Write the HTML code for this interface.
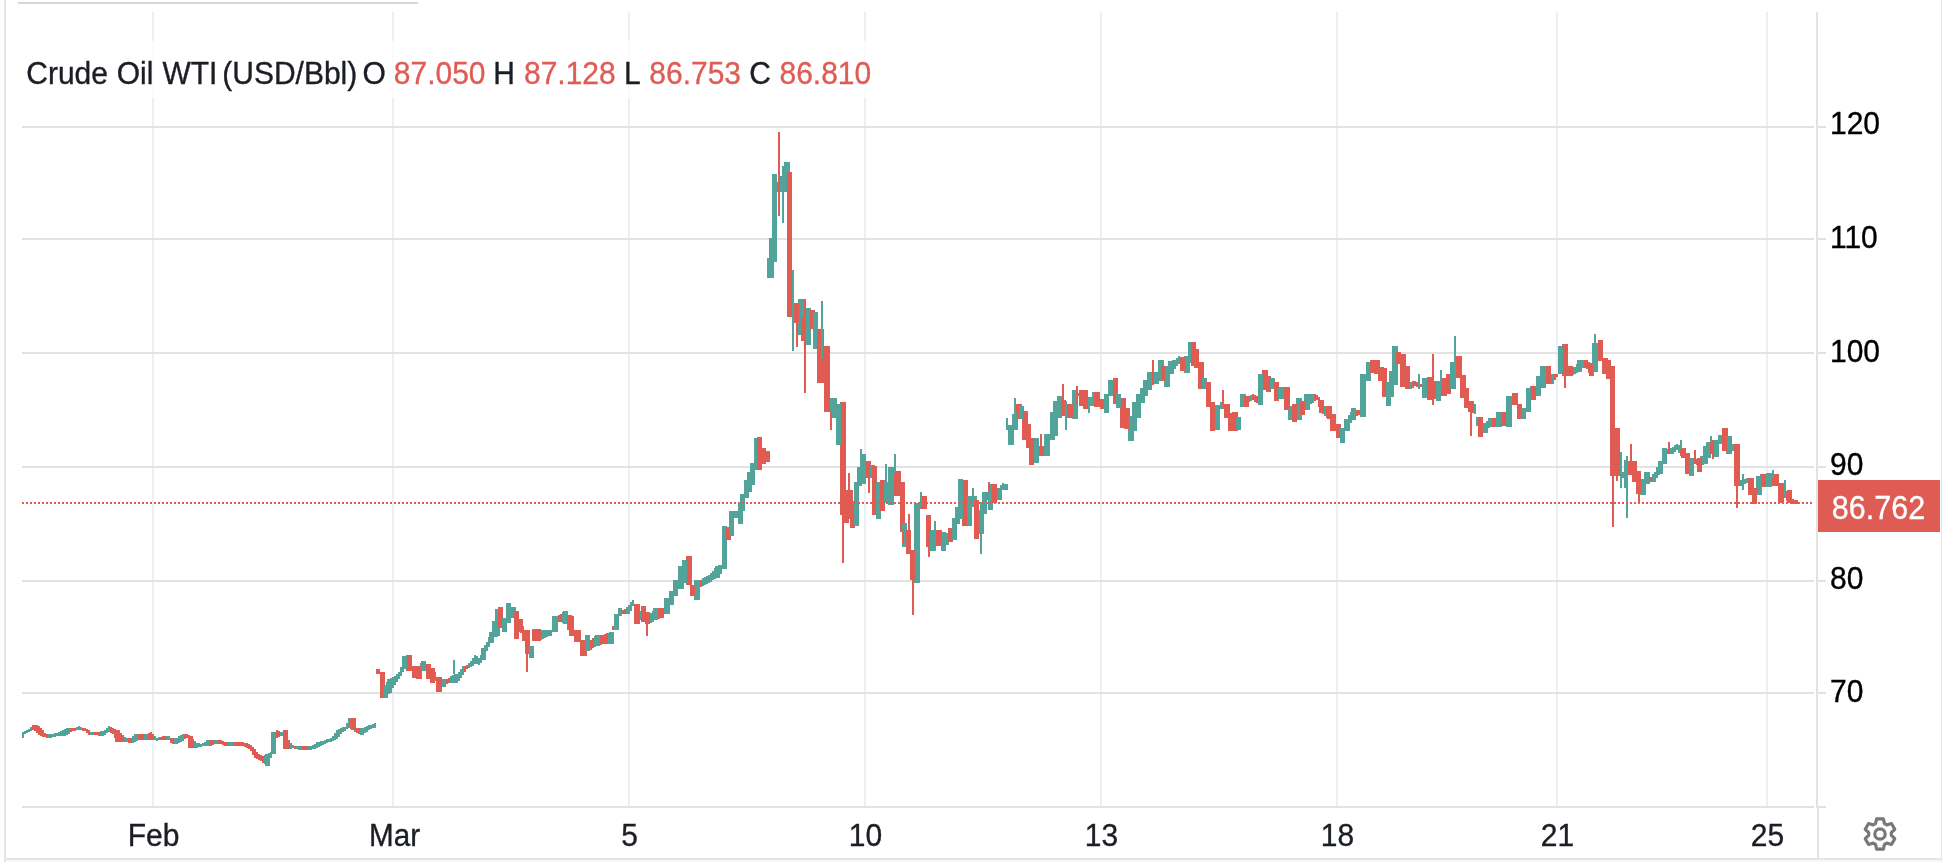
<!DOCTYPE html>
<html><head><meta charset="utf-8">
<style>
html,body{margin:0;padding:0;background:#fff;width:1942px;height:862px;overflow:hidden}
svg{display:block;position:absolute;left:0;top:0;will-change:transform}
text{font-family:"Liberation Sans",sans-serif;font-size:30px}
</style></head><body>
<svg width="1942" height="862" viewBox="0 0 1942 862" shape-rendering="crispEdges">
<rect x="0" y="0" width="1942" height="862" fill="#ffffff"/>
<!-- outer borders -->
<rect x="4" y="0" width="2" height="862" fill="#e3e5ea"/>
<rect x="18" y="2" width="400" height="2" fill="#d6d6d6"/>
<rect x="4" y="858" width="1938" height="2" fill="#e4e5ea"/><rect x="6" y="860" width="1936" height="2" fill="#f8f8fa"/>
<rect x="1941" y="0" width="1" height="862" fill="#e6e7ec"/>
<!-- vertical grid -->
<g fill="#ecf0f4">
<rect x="152" y="12" width="2" height="794"/>
<rect x="392" y="12" width="2" height="794"/>
<rect x="628" y="12" width="2" height="794"/>
<rect x="864" y="12" width="2" height="794"/>
<rect x="1100" y="12" width="2" height="794"/>
<rect x="1336" y="12" width="2" height="794"/>
<rect x="1556" y="12" width="2" height="794"/>
<rect x="1766" y="12" width="2" height="794"/>
</g>
<!-- horizontal grid -->
<g fill="#e3e3e3">
<rect x="22" y="126" width="1792" height="2"/>
<rect x="22" y="238" width="1792" height="2"/>
<rect x="22" y="352" width="1792" height="2"/>
<rect x="22" y="466" width="1792" height="2"/>
<rect x="22" y="580" width="1792" height="2"/>
<rect x="22" y="692" width="1792" height="2"/>
<rect x="22" y="806" width="1792" height="2"/>
</g>
<!-- price axis -->
<rect x="1816" y="12" width="2" height="796" fill="#e3e3e3"/><rect x="1817" y="808" width="2" height="50" fill="#e3e3e3"/>
<g fill="#e3e3e3">
<rect x="1818" y="126" width="8" height="2"/>
<rect x="1818" y="238" width="8" height="2"/>
<rect x="1818" y="352" width="8" height="2"/>
<rect x="1818" y="466" width="8" height="2"/>
<rect x="1818" y="580" width="8" height="2"/>
<rect x="1818" y="692" width="8" height="2"/>
<rect x="1818" y="806" width="8" height="2"/>
</g>
<g fill="#000000" stroke="#000000" stroke-width="0.35">
<text transform="translate(1830.0,134.0) scale(1,1.07)"  >120</text>
<text transform="translate(1830.0,248.0) scale(1,1.07)"  >110</text>
<text transform="translate(1830.0,362.0) scale(1,1.07)"  >100</text>
<text transform="translate(1830.0,474.5) scale(1,1.07)"  >90</text>
<text transform="translate(1830.0,588.5) scale(1,1.07)"  >80</text>
<text transform="translate(1830.0,702.0) scale(1,1.07)"  >70</text>
</g>
<!-- time axis labels -->
<g fill="#1b1e24" stroke="#1b1e24" stroke-width="0.35" text-anchor="middle">
<text transform="translate(153.5,846.0) scale(1,1.07)"  >Feb</text>
<text transform="translate(394.5,846.0) scale(1,1.07)"   textLength="51" lengthAdjust="spacingAndGlyphs">Mar</text>
<text transform="translate(629.5,846.0) scale(1,1.07)"  >5</text>
<text transform="translate(865.5,846.0) scale(1,1.07)"  >10</text>
<text transform="translate(1101.5,846.0) scale(1,1.07)"  >13</text>
<text transform="translate(1337.5,846.0) scale(1,1.07)"  >18</text>
<text transform="translate(1557.5,846.0) scale(1,1.07)"  >21</text>
<text transform="translate(1767.5,846.0) scale(1,1.07)"  >25</text>
</g>
<!-- candles -->
<g shape-rendering="crispEdges"><rect x="22" y="732" width="2" height="6" fill="#52a49a"/><rect x="24" y="731" width="2" height="3" fill="#52a49a"/><rect x="26" y="730" width="2" height="3" fill="#52a49a"/><rect x="28" y="729" width="2" height="3" fill="#52a49a"/><rect x="30" y="727" width="2" height="4" fill="#52a49a"/><rect x="32" y="725" width="2" height="5" fill="#e05c52"/><rect x="34" y="725" width="2" height="6" fill="#e05c52"/><rect x="36" y="725" width="2" height="8" fill="#e05c52"/><rect x="38" y="726" width="2" height="9" fill="#e05c52"/><rect x="40" y="728" width="2" height="8" fill="#e05c52"/><rect x="42" y="730" width="2" height="7" fill="#e05c52"/><rect x="44" y="733" width="2" height="4" fill="#e05c52"/><rect x="46" y="734" width="2" height="4" fill="#e05c52"/><rect x="48" y="734" width="4" height="4" fill="#52a49a"/><rect x="52" y="734" width="2" height="3" fill="#52a49a"/><rect x="54" y="733" width="2" height="4" fill="#52a49a"/><rect x="56" y="733" width="2" height="3" fill="#52a49a"/><rect x="58" y="732" width="2" height="4" fill="#52a49a"/><rect x="60" y="731" width="2" height="5" fill="#52a49a"/><rect x="62" y="730" width="2" height="6" fill="#52a49a"/><rect x="64" y="729" width="2" height="7" fill="#52a49a"/><rect x="66" y="728" width="2" height="7" fill="#52a49a"/><rect x="68" y="728" width="2" height="6" fill="#52a49a"/><rect x="70" y="728" width="2" height="4" fill="#e05c52"/><rect x="72" y="728" width="4" height="3" fill="#e05c52"/><rect x="76" y="727" width="2" height="3" fill="#52a49a"/><rect x="78" y="726" width="2" height="4" fill="#52a49a"/><rect x="80" y="727" width="2" height="3" fill="#52a49a"/><rect x="82" y="728" width="4" height="3" fill="#e05c52"/><rect x="86" y="729" width="2" height="4" fill="#e05c52"/><rect x="88" y="730" width="2" height="5" fill="#e05c52"/><rect x="90" y="732" width="4" height="3" fill="#52a49a"/><rect x="94" y="732" width="4" height="3" fill="#e05c52"/><rect x="98" y="732" width="2" height="4" fill="#e05c52"/><rect x="100" y="731" width="4" height="5" fill="#52a49a"/><rect x="104" y="730" width="2" height="5" fill="#52a49a"/><rect x="106" y="728" width="2" height="5" fill="#52a49a"/><rect x="108" y="726" width="2" height="6" fill="#52a49a"/><rect x="110" y="727" width="2" height="6" fill="#e05c52"/><rect x="112" y="728" width="2" height="6" fill="#e05c52"/><rect x="114" y="729" width="2" height="9" fill="#e05c52"/><rect x="116" y="730" width="2" height="12" fill="#e05c52"/><rect x="118" y="732" width="2" height="10" fill="#e05c52"/><rect x="120" y="733" width="2" height="9" fill="#e05c52"/><rect x="122" y="735" width="2" height="7" fill="#e05c52"/><rect x="124" y="737" width="2" height="5" fill="#52a49a"/><rect x="126" y="738" width="2" height="4" fill="#52a49a"/><rect x="128" y="738" width="4" height="5" fill="#e05c52"/><rect x="132" y="736" width="2" height="7" fill="#52a49a"/><rect x="134" y="734" width="2" height="8" fill="#52a49a"/><rect x="136" y="734" width="2" height="7" fill="#52a49a"/><rect x="138" y="734" width="6" height="6" fill="#e05c52"/><rect x="144" y="734" width="4" height="6" fill="#52a49a"/><rect x="148" y="733" width="2" height="7" fill="#e05c52"/><rect x="150" y="732" width="2" height="8" fill="#e05c52"/><rect x="152" y="734" width="2" height="6" fill="#e05c52"/><rect x="154" y="736" width="2" height="4" fill="#52a49a"/><rect x="156" y="738" width="2" height="3" fill="#52a49a"/><rect x="158" y="737" width="2" height="3" fill="#52a49a"/><rect x="160" y="737" width="2" height="3" fill="#e05c52"/><rect x="162" y="736" width="4" height="4" fill="#e05c52"/><rect x="166" y="736" width="4" height="4" fill="#52a49a"/><rect x="170" y="738" width="2" height="5" fill="#e05c52"/><rect x="172" y="738" width="2" height="6" fill="#e05c52"/><rect x="174" y="738" width="4" height="6" fill="#52a49a"/><rect x="178" y="736" width="2" height="7" fill="#52a49a"/><rect x="180" y="735" width="2" height="7" fill="#52a49a"/><rect x="182" y="734" width="2" height="7" fill="#52a49a"/><rect x="184" y="734" width="2" height="5" fill="#e05c52"/><rect x="186" y="734" width="2" height="4" fill="#e05c52"/><rect x="188" y="735" width="2" height="9" fill="#e05c52"/><rect x="190" y="737" width="2" height="11" fill="#e05c52"/><rect x="192" y="739" width="2" height="9" fill="#e05c52"/><rect x="194" y="741" width="2" height="7" fill="#52a49a"/><rect x="196" y="743" width="2" height="5" fill="#52a49a"/><rect x="198" y="743" width="2" height="4" fill="#52a49a"/><rect x="200" y="744" width="2" height="3" fill="#52a49a"/><rect x="202" y="743" width="2" height="3" fill="#52a49a"/><rect x="204" y="742" width="2" height="4" fill="#52a49a"/><rect x="206" y="740" width="4" height="6" fill="#52a49a"/><rect x="210" y="740" width="2" height="6" fill="#e05c52"/><rect x="212" y="740" width="2" height="5" fill="#e05c52"/><rect x="214" y="740" width="4" height="4" fill="#52a49a"/><rect x="218" y="740" width="4" height="4" fill="#e05c52"/><rect x="222" y="741" width="2" height="4" fill="#e05c52"/><rect x="224" y="742" width="4" height="4" fill="#e05c52"/><rect x="228" y="742" width="6" height="4" fill="#52a49a"/><rect x="234" y="742" width="10" height="4" fill="#e05c52"/><rect x="244" y="743" width="2" height="4" fill="#e05c52"/><rect x="246" y="743" width="2" height="5" fill="#e05c52"/><rect x="248" y="744" width="2" height="5" fill="#e05c52"/><rect x="250" y="745" width="2" height="6" fill="#e05c52"/><rect x="252" y="747" width="2" height="8" fill="#e05c52"/><rect x="254" y="749" width="2" height="9" fill="#e05c52"/><rect x="256" y="752" width="2" height="7" fill="#e05c52"/><rect x="258" y="754" width="2" height="6" fill="#e05c52"/><rect x="260" y="755" width="2" height="6" fill="#e05c52"/><rect x="262" y="756" width="2" height="7" fill="#e05c52"/><rect x="264" y="755" width="2" height="9" fill="#52a49a"/><rect x="266" y="754" width="2" height="11" fill="#52a49a"/><rect x="268" y="753" width="2" height="8" fill="#52a49a"/><rect x="270" y="752" width="2" height="6" fill="#52a49a"/><rect x="272" y="732" width="4" height="22" fill="#52a49a"/><rect x="276" y="730" width="2" height="8" fill="#e05c52"/><rect x="278" y="731" width="2" height="6" fill="#e05c52"/><rect x="280" y="732" width="4" height="4" fill="#52a49a"/><rect x="284" y="730" width="2" height="19" fill="#e05c52"/><rect x="286" y="740" width="4" height="9" fill="#e05c52"/><rect x="290" y="743" width="2" height="6" fill="#52a49a"/><rect x="292" y="745" width="2" height="3" fill="#52a49a"/><rect x="294" y="746" width="2" height="3" fill="#e05c52"/><rect x="296" y="746" width="2" height="3" fill="#52a49a"/><rect x="298" y="746" width="4" height="4" fill="#52a49a"/><rect x="302" y="746" width="6" height="4" fill="#e05c52"/><rect x="308" y="746" width="4" height="4" fill="#52a49a"/><rect x="312" y="745" width="2" height="4" fill="#52a49a"/><rect x="314" y="744" width="2" height="5" fill="#52a49a"/><rect x="316" y="742" width="2" height="6" fill="#52a49a"/><rect x="318" y="742" width="2" height="5" fill="#52a49a"/><rect x="320" y="741" width="2" height="5" fill="#52a49a"/><rect x="322" y="741" width="2" height="4" fill="#52a49a"/><rect x="324" y="740" width="2" height="4" fill="#52a49a"/><rect x="326" y="739" width="2" height="4" fill="#52a49a"/><rect x="328" y="739" width="2" height="3" fill="#52a49a"/><rect x="330" y="738" width="2" height="4" fill="#52a49a"/><rect x="332" y="736" width="2" height="5" fill="#52a49a"/><rect x="334" y="733" width="2" height="7" fill="#52a49a"/><rect x="336" y="730" width="2" height="9" fill="#52a49a"/><rect x="338" y="729" width="2" height="8" fill="#52a49a"/><rect x="340" y="728" width="2" height="6" fill="#52a49a"/><rect x="342" y="727" width="2" height="5" fill="#52a49a"/><rect x="344" y="727" width="2" height="4" fill="#52a49a"/><rect x="346" y="723" width="2" height="6" fill="#52a49a"/><rect x="348" y="718" width="2" height="10" fill="#52a49a"/><rect x="350" y="718" width="2" height="11" fill="#e05c52"/><rect x="352" y="719" width="2" height="11" fill="#e05c52"/><rect x="354" y="727" width="2" height="5" fill="#52a49a"/><rect x="356" y="728" width="2" height="5" fill="#e05c52"/><rect x="358" y="728" width="2" height="6" fill="#e05c52"/><rect x="360" y="728" width="4" height="7" fill="#52a49a"/><rect x="364" y="727" width="2" height="6" fill="#52a49a"/><rect x="366" y="726" width="2" height="6" fill="#52a49a"/><rect x="368" y="725" width="2" height="5" fill="#52a49a"/><rect x="370" y="725" width="2" height="4" fill="#52a49a"/><rect x="372" y="724" width="2" height="4" fill="#52a49a"/><rect x="374" y="723" width="2" height="5" fill="#52a49a"/><rect x="376" y="669" width="4" height="5" fill="#e05c52"/><rect x="380" y="672" width="4" height="26" fill="#e05c52"/><rect x="384" y="685" width="2" height="13" fill="#52a49a"/><rect x="386" y="682" width="2" height="14" fill="#52a49a"/><rect x="388" y="680" width="2" height="14" fill="#52a49a"/><rect x="390" y="678" width="2" height="13" fill="#52a49a"/><rect x="392" y="677" width="2" height="11" fill="#52a49a"/><rect x="394" y="676" width="2" height="9" fill="#52a49a"/><rect x="396" y="674" width="2" height="8" fill="#52a49a"/><rect x="398" y="672" width="2" height="7" fill="#52a49a"/><rect x="400" y="667" width="2" height="9" fill="#52a49a"/><rect x="402" y="660" width="2" height="12" fill="#52a49a"/><rect x="404" y="656" width="2" height="13" fill="#52a49a"/><rect x="406" y="655" width="6" height="16" fill="#e05c52"/><rect x="412" y="666" width="4" height="12" fill="#e05c52"/><rect x="416" y="666" width="4" height="13" fill="#e05c52"/><rect x="420" y="663" width="2" height="12" fill="#52a49a"/><rect x="422" y="661" width="4" height="10" fill="#52a49a"/><rect x="426" y="664" width="4" height="15" fill="#e05c52"/><rect x="430" y="668" width="2" height="15" fill="#e05c52"/><rect x="432" y="672" width="4" height="9" fill="#52a49a"/><rect x="436" y="677" width="6" height="15" fill="#e05c52"/><rect x="442" y="679" width="4" height="8" fill="#52a49a"/><rect x="446" y="679" width="2" height="5" fill="#e05c52"/><rect x="448" y="678" width="2" height="5" fill="#e05c52"/><rect x="450" y="676" width="2" height="7" fill="#52a49a"/><rect x="452" y="675" width="2" height="8" fill="#52a49a"/><rect x="454" y="674" width="4" height="9" fill="#52a49a"/><rect x="458" y="672" width="2" height="9" fill="#52a49a"/><rect x="460" y="669" width="2" height="9" fill="#52a49a"/><rect x="462" y="666" width="2" height="9" fill="#52a49a"/><rect x="464" y="666" width="2" height="6" fill="#e05c52"/><rect x="466" y="665" width="2" height="4" fill="#e05c52"/><rect x="468" y="663" width="2" height="5" fill="#52a49a"/><rect x="470" y="661" width="2" height="6" fill="#52a49a"/><rect x="472" y="658" width="2" height="8" fill="#52a49a"/><rect x="474" y="655" width="2" height="9" fill="#52a49a"/><rect x="476" y="656" width="2" height="8" fill="#52a49a"/><rect x="478" y="658" width="2" height="7" fill="#52a49a"/><rect x="480" y="655" width="2" height="8" fill="#52a49a"/><rect x="482" y="648" width="2" height="11" fill="#52a49a"/><rect x="484" y="645" width="2" height="10" fill="#52a49a"/><rect x="486" y="642" width="2" height="9" fill="#52a49a"/><rect x="488" y="637" width="2" height="10" fill="#52a49a"/><rect x="490" y="632" width="2" height="11" fill="#52a49a"/><rect x="492" y="621" width="4" height="16" fill="#52a49a"/><rect x="496" y="609" width="2" height="27" fill="#52a49a"/><rect x="498" y="607" width="4" height="21" fill="#e05c52"/><rect x="502" y="618" width="4" height="14" fill="#52a49a"/><rect x="506" y="603" width="4" height="20" fill="#52a49a"/><rect x="510" y="607" width="4" height="11" fill="#52a49a"/><rect x="514" y="611" width="4" height="28" fill="#e05c52"/><rect x="518" y="619" width="2" height="13" fill="#e05c52"/><rect x="520" y="621" width="2" height="12" fill="#e05c52"/><rect x="522" y="626" width="2" height="12" fill="#e05c52"/><rect x="524" y="630" width="2" height="11" fill="#e05c52"/><rect x="526" y="630" width="4" height="24" fill="#e05c52"/><rect x="530" y="646" width="2" height="12" fill="#52a49a"/><rect x="532" y="629" width="8" height="12" fill="#e05c52"/><rect x="540" y="630" width="2" height="10" fill="#52a49a"/><rect x="542" y="630" width="2" height="9" fill="#52a49a"/><rect x="544" y="630" width="2" height="8" fill="#52a49a"/><rect x="546" y="630" width="2" height="7" fill="#52a49a"/><rect x="548" y="630" width="4" height="6" fill="#52a49a"/><rect x="552" y="616" width="6" height="16" fill="#52a49a"/><rect x="558" y="615" width="2" height="7" fill="#e05c52"/><rect x="560" y="614" width="2" height="8" fill="#e05c52"/><rect x="562" y="612" width="2" height="11" fill="#52a49a"/><rect x="564" y="611" width="2" height="12" fill="#52a49a"/><rect x="566" y="611" width="2" height="13" fill="#52a49a"/><rect x="568" y="615" width="2" height="15" fill="#e05c52"/><rect x="570" y="616" width="4" height="20" fill="#e05c52"/><rect x="574" y="630" width="6" height="12" fill="#e05c52"/><rect x="580" y="640" width="6" height="16" fill="#e05c52"/><rect x="586" y="635" width="2" height="16" fill="#52a49a"/><rect x="588" y="640" width="4" height="10" fill="#e05c52"/><rect x="592" y="638" width="2" height="10" fill="#e05c52"/><rect x="594" y="636" width="2" height="11" fill="#52a49a"/><rect x="596" y="635" width="2" height="11" fill="#52a49a"/><rect x="598" y="635" width="2" height="10" fill="#52a49a"/><rect x="600" y="635" width="2" height="10" fill="#e05c52"/><rect x="602" y="635" width="2" height="9" fill="#e05c52"/><rect x="604" y="634" width="2" height="10" fill="#e05c52"/><rect x="606" y="633" width="2" height="11" fill="#e05c52"/><rect x="608" y="633" width="2" height="11" fill="#52a49a"/><rect x="610" y="632" width="2" height="11" fill="#52a49a"/><rect x="612" y="626" width="2" height="4" fill="#e05c52"/><rect x="614" y="614" width="4" height="16" fill="#52a49a"/><rect x="618" y="608" width="4" height="8" fill="#52a49a"/><rect x="622" y="610" width="2" height="4" fill="#e05c52"/><rect x="624" y="609" width="2" height="5" fill="#e05c52"/><rect x="626" y="607" width="2" height="7" fill="#52a49a"/><rect x="628" y="605" width="2" height="9" fill="#52a49a"/><rect x="630" y="602" width="2" height="9" fill="#52a49a"/><rect x="632" y="600" width="2" height="6" fill="#52a49a"/><rect x="634" y="604" width="4" height="20" fill="#e05c52"/><rect x="638" y="611" width="4" height="9" fill="#52a49a"/><rect x="642" y="606" width="4" height="16" fill="#e05c52"/><rect x="646" y="612" width="2" height="12" fill="#e05c52"/><rect x="648" y="613" width="2" height="11" fill="#52a49a"/><rect x="650" y="613" width="2" height="10" fill="#52a49a"/><rect x="652" y="611" width="2" height="11" fill="#52a49a"/><rect x="654" y="609" width="2" height="11" fill="#52a49a"/><rect x="656" y="608" width="2" height="12" fill="#52a49a"/><rect x="658" y="608" width="2" height="11" fill="#e05c52"/><rect x="660" y="608" width="4" height="10" fill="#e05c52"/><rect x="664" y="598" width="6" height="16" fill="#52a49a"/><rect x="670" y="591" width="4" height="14" fill="#52a49a"/><rect x="674" y="580" width="4" height="16" fill="#52a49a"/><rect x="678" y="566" width="4" height="23" fill="#52a49a"/><rect x="682" y="560" width="4" height="23" fill="#52a49a"/><rect x="686" y="556" width="4" height="29" fill="#e05c52"/><rect x="690" y="585" width="4" height="11" fill="#e05c52"/><rect x="694" y="580" width="4" height="20" fill="#52a49a"/><rect x="698" y="581" width="2" height="6" fill="#e05c52"/><rect x="700" y="580" width="2" height="7" fill="#e05c52"/><rect x="702" y="578" width="2" height="8" fill="#52a49a"/><rect x="704" y="577" width="2" height="8" fill="#52a49a"/><rect x="706" y="576" width="2" height="8" fill="#52a49a"/><rect x="708" y="575" width="2" height="8" fill="#52a49a"/><rect x="710" y="573" width="2" height="9" fill="#52a49a"/><rect x="712" y="571" width="2" height="9" fill="#52a49a"/><rect x="714" y="568" width="2" height="11" fill="#52a49a"/><rect x="716" y="566" width="2" height="11" fill="#52a49a"/><rect x="718" y="565" width="2" height="11" fill="#52a49a"/><rect x="720" y="565" width="2" height="9" fill="#52a49a"/><rect x="722" y="526" width="4" height="43" fill="#52a49a"/><rect x="726" y="527" width="4" height="13" fill="#e05c52"/><rect x="730" y="511" width="2" height="25" fill="#52a49a"/><rect x="732" y="511" width="6" height="7" fill="#52a49a"/><rect x="738" y="504" width="4" height="20" fill="#52a49a"/><rect x="742" y="494" width="2" height="17" fill="#52a49a"/><rect x="744" y="480" width="4" height="18" fill="#52a49a"/><rect x="748" y="472" width="2" height="20" fill="#52a49a"/><rect x="750" y="463" width="4" height="22" fill="#52a49a"/><rect x="754" y="438" width="4" height="32" fill="#52a49a"/><rect x="758" y="437" width="2" height="33" fill="#e05c52"/><rect x="760" y="448" width="6" height="16" fill="#e05c52"/><rect x="766" y="451" width="2" height="11" fill="#e05c52"/><rect x="768" y="258" width="2" height="20" fill="#52a49a"/><rect x="770" y="238" width="2" height="40" fill="#52a49a"/><rect x="772" y="174" width="4" height="88" fill="#52a49a"/><rect x="776" y="182" width="4" height="10" fill="#e05c52"/><rect x="780" y="176" width="4" height="16" fill="#52a49a"/><rect x="784" y="162" width="4" height="30" fill="#52a49a"/><rect x="788" y="172" width="4" height="145" fill="#e05c52"/><rect x="792" y="303" width="6" height="20" fill="#e05c52"/><rect x="798" y="299" width="4" height="36" fill="#52a49a"/><rect x="802" y="317" width="4" height="24" fill="#e05c52"/><rect x="806" y="308" width="4" height="37" fill="#52a49a"/><rect x="810" y="310" width="4" height="19" fill="#e05c52"/><rect x="814" y="312" width="4" height="37" fill="#52a49a"/><rect x="818" y="329" width="6" height="54" fill="#e05c52"/><rect x="824" y="346" width="6" height="66" fill="#e05c52"/><rect x="830" y="398" width="6" height="20" fill="#52a49a"/><rect x="836" y="404" width="4" height="41" fill="#52a49a"/><rect x="840" y="402" width="4" height="113" fill="#e05c52"/><rect x="844" y="490" width="4" height="33" fill="#e05c52"/><rect x="848" y="490" width="2" height="29" fill="#e05c52"/><rect x="850" y="501" width="4" height="27" fill="#e05c52"/><rect x="854" y="482" width="4" height="44" fill="#52a49a"/><rect x="858" y="467" width="4" height="19" fill="#52a49a"/><rect x="862" y="454" width="4" height="30" fill="#52a49a"/><rect x="866" y="461" width="4" height="17" fill="#e05c52"/><rect x="870" y="465" width="2" height="13" fill="#52a49a"/><rect x="872" y="466" width="4" height="49" fill="#e05c52"/><rect x="876" y="482" width="4" height="37" fill="#52a49a"/><rect x="880" y="480" width="4" height="31" fill="#e05c52"/><rect x="884" y="482" width="4" height="21" fill="#52a49a"/><rect x="888" y="467" width="6" height="38" fill="#52a49a"/><rect x="894" y="471" width="6" height="25" fill="#e05c52"/><rect x="900" y="482" width="4" height="50" fill="#e05c52"/><rect x="904" y="523" width="2" height="24" fill="#52a49a"/><rect x="906" y="530" width="4" height="24" fill="#e05c52"/><rect x="910" y="550" width="4" height="30" fill="#e05c52"/><rect x="914" y="503" width="6" height="80" fill="#52a49a"/><rect x="920" y="496" width="6" height="13" fill="#e05c52"/><rect x="926" y="515" width="4" height="32" fill="#e05c52"/><rect x="930" y="530" width="6" height="21" fill="#52a49a"/><rect x="936" y="530" width="4" height="16" fill="#e05c52"/><rect x="940" y="532" width="2" height="12" fill="#e05c52"/><rect x="942" y="532" width="2" height="19" fill="#52a49a"/><rect x="944" y="533" width="2" height="12" fill="#52a49a"/><rect x="946" y="533" width="2" height="11" fill="#52a49a"/><rect x="948" y="531" width="2" height="11" fill="#e05c52"/><rect x="950" y="528" width="2" height="14" fill="#e05c52"/><rect x="952" y="518" width="4" height="22" fill="#52a49a"/><rect x="956" y="507" width="2" height="17" fill="#52a49a"/><rect x="958" y="479" width="4" height="40" fill="#52a49a"/><rect x="962" y="480" width="4" height="46" fill="#e05c52"/><rect x="966" y="496" width="6" height="30" fill="#52a49a"/><rect x="972" y="496" width="4" height="11" fill="#52a49a"/><rect x="976" y="500" width="2" height="39" fill="#e05c52"/><rect x="978" y="510" width="4" height="24" fill="#52a49a"/><rect x="982" y="492" width="4" height="22" fill="#52a49a"/><rect x="986" y="492" width="2" height="8" fill="#e05c52"/><rect x="988" y="484" width="4" height="26" fill="#52a49a"/><rect x="992" y="484" width="4" height="19" fill="#e05c52"/><rect x="996" y="488" width="2" height="12" fill="#52a49a"/><rect x="998" y="488" width="2" height="11" fill="#52a49a"/><rect x="1000" y="485" width="2" height="10" fill="#52a49a"/><rect x="1002" y="483" width="2" height="7" fill="#52a49a"/><rect x="1004" y="484" width="4" height="6" fill="#52a49a"/><rect x="1008" y="425" width="4" height="20" fill="#52a49a"/><rect x="1012" y="414" width="4" height="16" fill="#52a49a"/><rect x="1016" y="404" width="4" height="15" fill="#e05c52"/><rect x="1020" y="406" width="2" height="13" fill="#52a49a"/><rect x="1022" y="411" width="4" height="29" fill="#e05c52"/><rect x="1026" y="424" width="4" height="24" fill="#e05c52"/><rect x="1030" y="438" width="4" height="27" fill="#e05c52"/><rect x="1034" y="438" width="4" height="25" fill="#52a49a"/><rect x="1038" y="446" width="6" height="10" fill="#e05c52"/><rect x="1044" y="434" width="6" height="22" fill="#52a49a"/><rect x="1050" y="412" width="4" height="28" fill="#52a49a"/><rect x="1054" y="401" width="4" height="35" fill="#52a49a"/><rect x="1058" y="396" width="4" height="22" fill="#52a49a"/><rect x="1062" y="400" width="4" height="16" fill="#e05c52"/><rect x="1066" y="404" width="6" height="14" fill="#e05c52"/><rect x="1072" y="390" width="4" height="29" fill="#52a49a"/><rect x="1076" y="393" width="4" height="3" fill="#e05c52"/><rect x="1080" y="390" width="4" height="16" fill="#e05c52"/><rect x="1084" y="390" width="4" height="19" fill="#e05c52"/><rect x="1088" y="397" width="6" height="9" fill="#52a49a"/><rect x="1094" y="392" width="6" height="15" fill="#e05c52"/><rect x="1100" y="399" width="4" height="10" fill="#e05c52"/><rect x="1104" y="394" width="4" height="19" fill="#52a49a"/><rect x="1108" y="380" width="6" height="16" fill="#52a49a"/><rect x="1114" y="378" width="2" height="26" fill="#e05c52"/><rect x="1116" y="394" width="4" height="14" fill="#52a49a"/><rect x="1120" y="398" width="4" height="30" fill="#e05c52"/><rect x="1124" y="408" width="4" height="21" fill="#e05c52"/><rect x="1128" y="416" width="4" height="25" fill="#52a49a"/><rect x="1132" y="402" width="4" height="29" fill="#52a49a"/><rect x="1136" y="394" width="4" height="24" fill="#52a49a"/><rect x="1140" y="388" width="4" height="15" fill="#52a49a"/><rect x="1144" y="380" width="4" height="16" fill="#52a49a"/><rect x="1148" y="372" width="2" height="18" fill="#52a49a"/><rect x="1150" y="378" width="2" height="8" fill="#e05c52"/><rect x="1152" y="376" width="2" height="9" fill="#e05c52"/><rect x="1154" y="374" width="2" height="10" fill="#52a49a"/><rect x="1156" y="372" width="2" height="12" fill="#52a49a"/><rect x="1158" y="360" width="4" height="21" fill="#52a49a"/><rect x="1162" y="366" width="2" height="15" fill="#e05c52"/><rect x="1164" y="366" width="4" height="21" fill="#52a49a"/><rect x="1168" y="361" width="4" height="13" fill="#52a49a"/><rect x="1172" y="360" width="2" height="11" fill="#52a49a"/><rect x="1174" y="360" width="2" height="9" fill="#52a49a"/><rect x="1176" y="358" width="2" height="8" fill="#52a49a"/><rect x="1178" y="356" width="2" height="8" fill="#52a49a"/><rect x="1180" y="357" width="4" height="14" fill="#e05c52"/><rect x="1184" y="356" width="4" height="17" fill="#52a49a"/><rect x="1188" y="342" width="4" height="21" fill="#52a49a"/><rect x="1192" y="342" width="2" height="24" fill="#e05c52"/><rect x="1194" y="349" width="4" height="19" fill="#e05c52"/><rect x="1198" y="362" width="4" height="27" fill="#e05c52"/><rect x="1202" y="378" width="4" height="11" fill="#52a49a"/><rect x="1206" y="382" width="4" height="25" fill="#e05c52"/><rect x="1210" y="402" width="4" height="29" fill="#e05c52"/><rect x="1214" y="405" width="6" height="25" fill="#52a49a"/><rect x="1220" y="402" width="4" height="7" fill="#52a49a"/><rect x="1224" y="404" width="4" height="14" fill="#e05c52"/><rect x="1228" y="413" width="4" height="18" fill="#e05c52"/><rect x="1232" y="412" width="4" height="19" fill="#e05c52"/><rect x="1236" y="417" width="4" height="13" fill="#52a49a"/><rect x="1240" y="394" width="4" height="13" fill="#52a49a"/><rect x="1244" y="395" width="2" height="12" fill="#e05c52"/><rect x="1246" y="396" width="2" height="10" fill="#e05c52"/><rect x="1248" y="396" width="2" height="6" fill="#52a49a"/><rect x="1250" y="395" width="2" height="6" fill="#52a49a"/><rect x="1252" y="394" width="2" height="6" fill="#e05c52"/><rect x="1254" y="395" width="2" height="7" fill="#e05c52"/><rect x="1256" y="396" width="2" height="7" fill="#e05c52"/><rect x="1258" y="374" width="4" height="31" fill="#52a49a"/><rect x="1262" y="370" width="4" height="20" fill="#e05c52"/><rect x="1266" y="376" width="4" height="16" fill="#e05c52"/><rect x="1270" y="378" width="4" height="11" fill="#52a49a"/><rect x="1274" y="382" width="4" height="19" fill="#e05c52"/><rect x="1278" y="387" width="6" height="12" fill="#52a49a"/><rect x="1284" y="387" width="4" height="23" fill="#e05c52"/><rect x="1288" y="406" width="4" height="14" fill="#52a49a"/><rect x="1292" y="404" width="4" height="18" fill="#e05c52"/><rect x="1296" y="398" width="4" height="22" fill="#52a49a"/><rect x="1300" y="401" width="4" height="14" fill="#e05c52"/><rect x="1304" y="394" width="6" height="16" fill="#52a49a"/><rect x="1310" y="394" width="2" height="10" fill="#52a49a"/><rect x="1312" y="394" width="2" height="9" fill="#52a49a"/><rect x="1314" y="394" width="2" height="7" fill="#e05c52"/><rect x="1316" y="395" width="2" height="5" fill="#e05c52"/><rect x="1318" y="397" width="2" height="10" fill="#e05c52"/><rect x="1320" y="400" width="2" height="13" fill="#e05c52"/><rect x="1322" y="404" width="2" height="10" fill="#52a49a"/><rect x="1324" y="406" width="2" height="10" fill="#52a49a"/><rect x="1326" y="406" width="2" height="12" fill="#e05c52"/><rect x="1328" y="406" width="2" height="13" fill="#e05c52"/><rect x="1330" y="414" width="4" height="17" fill="#e05c52"/><rect x="1334" y="428" width="2" height="3" fill="#52a49a"/><rect x="1336" y="427" width="2" height="6" fill="#52a49a"/><rect x="1338" y="424" width="2" height="14" fill="#e05c52"/><rect x="1340" y="428" width="4" height="15" fill="#52a49a"/><rect x="1344" y="419" width="4" height="12" fill="#52a49a"/><rect x="1348" y="415" width="2" height="12" fill="#52a49a"/><rect x="1350" y="412" width="2" height="11" fill="#52a49a"/><rect x="1352" y="408" width="2" height="12" fill="#52a49a"/><rect x="1354" y="409" width="2" height="9" fill="#52a49a"/><rect x="1356" y="410" width="2" height="6" fill="#e05c52"/><rect x="1358" y="410" width="2" height="5" fill="#e05c52"/><rect x="1360" y="374" width="6" height="43" fill="#52a49a"/><rect x="1366" y="362" width="4" height="19" fill="#52a49a"/><rect x="1370" y="360" width="4" height="13" fill="#e05c52"/><rect x="1374" y="360" width="4" height="14" fill="#e05c52"/><rect x="1378" y="367" width="4" height="14" fill="#e05c52"/><rect x="1382" y="368" width="4" height="29" fill="#e05c52"/><rect x="1386" y="382" width="4" height="24" fill="#52a49a"/><rect x="1390" y="371" width="2" height="26" fill="#52a49a"/><rect x="1392" y="346" width="4" height="39" fill="#52a49a"/><rect x="1396" y="352" width="4" height="12" fill="#e05c52"/><rect x="1400" y="354" width="6" height="33" fill="#e05c52"/><rect x="1406" y="366" width="2" height="23" fill="#e05c52"/><rect x="1408" y="382" width="4" height="7" fill="#52a49a"/><rect x="1412" y="381" width="2" height="7" fill="#e05c52"/><rect x="1414" y="381" width="2" height="5" fill="#e05c52"/><rect x="1416" y="382" width="2" height="5" fill="#e05c52"/><rect x="1418" y="383" width="2" height="4" fill="#e05c52"/><rect x="1420" y="384" width="2" height="3" fill="#e05c52"/><rect x="1422" y="378" width="6" height="20" fill="#52a49a"/><rect x="1428" y="377" width="4" height="23" fill="#e05c52"/><rect x="1432" y="381" width="4" height="18" fill="#e05c52"/><rect x="1436" y="381" width="4" height="20" fill="#52a49a"/><rect x="1440" y="378" width="6" height="18" fill="#e05c52"/><rect x="1446" y="374" width="4" height="20" fill="#e05c52"/><rect x="1450" y="362" width="6" height="27" fill="#52a49a"/><rect x="1456" y="356" width="4" height="22" fill="#e05c52"/><rect x="1460" y="375" width="4" height="23" fill="#e05c52"/><rect x="1464" y="388" width="4" height="20" fill="#e05c52"/><rect x="1468" y="401" width="4" height="11" fill="#e05c52"/><rect x="1472" y="403" width="2" height="10" fill="#e05c52"/><rect x="1474" y="404" width="2" height="10" fill="#52a49a"/><rect x="1476" y="417" width="4" height="9" fill="#52a49a"/><rect x="1480" y="417" width="2" height="20" fill="#e05c52"/><rect x="1482" y="423" width="4" height="10" fill="#52a49a"/><rect x="1486" y="421" width="2" height="10" fill="#52a49a"/><rect x="1488" y="418" width="2" height="10" fill="#52a49a"/><rect x="1490" y="418" width="2" height="9" fill="#52a49a"/><rect x="1492" y="418" width="4" height="9" fill="#e05c52"/><rect x="1496" y="412" width="6" height="15" fill="#52a49a"/><rect x="1502" y="412" width="4" height="14" fill="#e05c52"/><rect x="1506" y="396" width="6" height="31" fill="#52a49a"/><rect x="1512" y="393" width="6" height="12" fill="#e05c52"/><rect x="1518" y="404" width="4" height="15" fill="#e05c52"/><rect x="1522" y="408" width="4" height="11" fill="#52a49a"/><rect x="1526" y="388" width="4" height="24" fill="#52a49a"/><rect x="1530" y="386" width="6" height="14" fill="#e05c52"/><rect x="1536" y="376" width="4" height="20" fill="#52a49a"/><rect x="1540" y="366" width="6" height="22" fill="#52a49a"/><rect x="1546" y="366" width="4" height="18" fill="#e05c52"/><rect x="1550" y="374" width="4" height="10" fill="#52a49a"/><rect x="1554" y="374" width="2" height="6" fill="#e05c52"/><rect x="1556" y="374" width="2" height="3" fill="#e05c52"/><rect x="1558" y="346" width="4" height="28" fill="#52a49a"/><rect x="1562" y="344" width="4" height="32" fill="#e05c52"/><rect x="1566" y="367" width="2" height="9" fill="#52a49a"/><rect x="1568" y="366" width="4" height="10" fill="#e05c52"/><rect x="1572" y="367" width="2" height="8" fill="#52a49a"/><rect x="1574" y="367" width="2" height="7" fill="#52a49a"/><rect x="1576" y="364" width="2" height="9" fill="#52a49a"/><rect x="1578" y="360" width="2" height="12" fill="#52a49a"/><rect x="1580" y="360" width="2" height="10" fill="#52a49a"/><rect x="1582" y="360" width="2" height="8" fill="#52a49a"/><rect x="1584" y="360" width="2" height="8" fill="#e05c52"/><rect x="1586" y="360" width="2" height="9" fill="#e05c52"/><rect x="1588" y="362" width="2" height="11" fill="#e05c52"/><rect x="1590" y="363" width="2" height="13" fill="#e05c52"/><rect x="1592" y="343" width="6" height="29" fill="#52a49a"/><rect x="1598" y="340" width="4" height="21" fill="#e05c52"/><rect x="1602" y="358" width="4" height="16" fill="#e05c52"/><rect x="1606" y="360" width="4" height="19" fill="#e05c52"/><rect x="1610" y="366" width="4" height="110" fill="#e05c52"/><rect x="1614" y="428" width="6" height="48" fill="#e05c52"/><rect x="1620" y="474" width="2" height="3" fill="#52a49a"/><rect x="1622" y="472" width="2" height="6" fill="#52a49a"/><rect x="1624" y="471" width="4" height="8" fill="#52a49a"/><rect x="1628" y="461" width="4" height="14" fill="#e05c52"/><rect x="1632" y="461" width="4" height="21" fill="#e05c52"/><rect x="1636" y="471" width="4" height="23" fill="#e05c52"/><rect x="1640" y="479" width="4" height="16" fill="#52a49a"/><rect x="1644" y="472" width="2" height="12" fill="#52a49a"/><rect x="1646" y="473" width="2" height="11" fill="#52a49a"/><rect x="1648" y="477" width="4" height="5" fill="#e05c52"/><rect x="1652" y="474" width="2" height="8" fill="#52a49a"/><rect x="1654" y="472" width="2" height="10" fill="#52a49a"/><rect x="1656" y="467" width="2" height="11" fill="#52a49a"/><rect x="1658" y="463" width="2" height="12" fill="#52a49a"/><rect x="1660" y="461" width="2" height="13" fill="#52a49a"/><rect x="1662" y="448" width="4" height="16" fill="#52a49a"/><rect x="1666" y="449" width="4" height="5" fill="#e05c52"/><rect x="1670" y="448" width="2" height="6" fill="#52a49a"/><rect x="1672" y="447" width="2" height="7" fill="#52a49a"/><rect x="1674" y="445" width="2" height="7" fill="#52a49a"/><rect x="1676" y="444" width="2" height="6" fill="#52a49a"/><rect x="1678" y="445" width="2" height="8" fill="#52a49a"/><rect x="1680" y="447" width="2" height="9" fill="#e05c52"/><rect x="1682" y="448" width="4" height="10" fill="#e05c52"/><rect x="1686" y="453" width="4" height="21" fill="#e05c52"/><rect x="1690" y="458" width="4" height="18" fill="#52a49a"/><rect x="1694" y="460" width="2" height="4" fill="#e05c52"/><rect x="1696" y="459" width="2" height="6" fill="#e05c52"/><rect x="1698" y="458" width="2" height="13" fill="#e05c52"/><rect x="1700" y="456" width="2" height="11" fill="#52a49a"/><rect x="1702" y="456" width="2" height="9" fill="#52a49a"/><rect x="1704" y="446" width="2" height="18" fill="#52a49a"/><rect x="1706" y="442" width="4" height="16" fill="#52a49a"/><rect x="1710" y="440" width="4" height="14" fill="#e05c52"/><rect x="1714" y="440" width="4" height="17" fill="#52a49a"/><rect x="1718" y="435" width="4" height="9" fill="#52a49a"/><rect x="1722" y="428" width="4" height="23" fill="#e05c52"/><rect x="1726" y="436" width="4" height="18" fill="#52a49a"/><rect x="1730" y="444" width="4" height="7" fill="#52a49a"/><rect x="1734" y="444" width="6" height="42" fill="#e05c52"/><rect x="1740" y="480" width="2" height="6" fill="#52a49a"/><rect x="1742" y="479" width="2" height="6" fill="#52a49a"/><rect x="1744" y="479" width="2" height="5" fill="#52a49a"/><rect x="1746" y="478" width="2" height="5" fill="#52a49a"/><rect x="1748" y="478" width="4" height="17" fill="#e05c52"/><rect x="1752" y="488" width="4" height="16" fill="#e05c52"/><rect x="1756" y="476" width="4" height="19" fill="#52a49a"/><rect x="1760" y="474" width="6" height="13" fill="#e05c52"/><rect x="1766" y="473" width="6" height="14" fill="#52a49a"/><rect x="1772" y="474" width="6" height="12" fill="#e05c52"/><rect x="1778" y="483" width="4" height="20" fill="#e05c52"/><rect x="1782" y="492" width="2" height="5" fill="#52a49a"/><rect x="1784" y="492" width="2" height="6" fill="#52a49a"/><rect x="1786" y="491" width="2" height="10" fill="#e05c52"/><rect x="1788" y="491" width="2" height="12" fill="#e05c52"/><rect x="1790" y="495" width="2" height="8" fill="#e05c52"/><rect x="1792" y="499" width="2" height="5" fill="#e05c52"/><rect x="1794" y="500" width="4" height="4" fill="#e05c52"/><rect x="115" y="730" width="5" height="12" fill="#e05c52"/><rect x="188" y="736" width="5" height="12" fill="#e05c52"/><rect x="265" y="754" width="5" height="12" fill="#52a49a"/><rect x="271" y="732" width="5" height="22" fill="#52a49a"/><rect x="283" y="730" width="5" height="19" fill="#e05c52"/><rect x="351" y="718" width="5" height="12" fill="#e05c52"/><rect x="380" y="672" width="5" height="26" fill="#e05c52"/><rect x="383" y="685" width="5" height="13" fill="#52a49a"/><rect x="387" y="679" width="5" height="14" fill="#52a49a"/><rect x="402" y="656" width="5" height="13" fill="#52a49a"/><rect x="407" y="655" width="5" height="16" fill="#e05c52"/><rect x="413" y="666" width="5" height="12" fill="#e05c52"/><rect x="417" y="666" width="5" height="13" fill="#e05c52"/><rect x="421" y="661" width="5" height="10" fill="#52a49a"/><rect x="426" y="664" width="5" height="15" fill="#e05c52"/><rect x="430" y="668" width="5" height="15" fill="#e05c52"/><rect x="437" y="677" width="5" height="15" fill="#e05c52"/><rect x="481" y="648" width="5" height="12" fill="#52a49a"/><rect x="489" y="632" width="5" height="11" fill="#52a49a"/><rect x="493" y="621" width="5" height="16" fill="#52a49a"/><rect x="495" y="609" width="5" height="27" fill="#52a49a"/><rect x="498" y="607" width="5" height="21" fill="#e05c52"/><rect x="502" y="618" width="5" height="14" fill="#52a49a"/><rect x="506" y="603" width="5" height="20" fill="#52a49a"/><rect x="511" y="607" width="5" height="11" fill="#52a49a"/><rect x="514" y="611" width="5" height="28" fill="#e05c52"/><rect x="518" y="619" width="5" height="13" fill="#e05c52"/><rect x="522" y="630" width="5" height="11" fill="#e05c52"/><rect x="525" y="630" width="5" height="24" fill="#e05c52"/><rect x="529" y="646" width="5" height="12" fill="#52a49a"/><rect x="533" y="629" width="5" height="12" fill="#e05c52"/><rect x="536" y="629" width="5" height="12" fill="#e05c52"/><rect x="553" y="616" width="5" height="16" fill="#52a49a"/><rect x="563" y="611" width="5" height="13" fill="#52a49a"/><rect x="567" y="615" width="5" height="15" fill="#e05c52"/><rect x="569" y="616" width="5" height="20" fill="#e05c52"/><rect x="576" y="630" width="5" height="12" fill="#e05c52"/><rect x="582" y="640" width="5" height="16" fill="#e05c52"/><rect x="585" y="635" width="5" height="16" fill="#52a49a"/><rect x="595" y="635" width="5" height="11" fill="#52a49a"/><rect x="609" y="632" width="5" height="12" fill="#52a49a"/><rect x="614" y="614" width="5" height="16" fill="#52a49a"/><rect x="635" y="604" width="5" height="20" fill="#e05c52"/><rect x="641" y="606" width="5" height="16" fill="#e05c52"/><rect x="645" y="612" width="5" height="12" fill="#e05c52"/><rect x="653" y="608" width="5" height="12" fill="#52a49a"/><rect x="665" y="598" width="5" height="16" fill="#52a49a"/><rect x="669" y="591" width="5" height="14" fill="#52a49a"/><rect x="673" y="580" width="5" height="16" fill="#52a49a"/><rect x="679" y="566" width="5" height="23" fill="#52a49a"/><rect x="683" y="560" width="5" height="23" fill="#52a49a"/><rect x="687" y="556" width="5" height="29" fill="#e05c52"/><rect x="690" y="585" width="5" height="11" fill="#e05c52"/><rect x="695" y="580" width="5" height="20" fill="#52a49a"/><rect x="715" y="566" width="5" height="12" fill="#52a49a"/><rect x="722" y="526" width="5" height="43" fill="#52a49a"/><rect x="726" y="527" width="5" height="13" fill="#e05c52"/><rect x="729" y="511" width="5" height="25" fill="#52a49a"/><rect x="738" y="504" width="5" height="20" fill="#52a49a"/><rect x="740" y="494" width="5" height="17" fill="#52a49a"/><rect x="744" y="480" width="5" height="18" fill="#52a49a"/><rect x="747" y="472" width="5" height="20" fill="#52a49a"/><rect x="750" y="463" width="5" height="22" fill="#52a49a"/><rect x="754" y="438" width="5" height="32" fill="#52a49a"/><rect x="757" y="437" width="5" height="33" fill="#e05c52"/><rect x="761" y="448" width="5" height="16" fill="#e05c52"/><rect x="765" y="451" width="5" height="11" fill="#e05c52"/><rect x="767" y="258" width="5" height="20" fill="#52a49a"/><rect x="769" y="238" width="5" height="40" fill="#52a49a"/><rect x="772" y="174" width="5" height="88" fill="#52a49a"/><rect x="780" y="176" width="5" height="16" fill="#52a49a"/><rect x="785" y="162" width="5" height="30" fill="#52a49a"/><rect x="787" y="172" width="5" height="145" fill="#e05c52"/><rect x="794" y="303" width="5" height="20" fill="#e05c52"/><rect x="799" y="299" width="5" height="36" fill="#52a49a"/><rect x="801" y="317" width="5" height="24" fill="#e05c52"/><rect x="806" y="308" width="5" height="37" fill="#52a49a"/><rect x="810" y="310" width="5" height="19" fill="#e05c52"/><rect x="813" y="312" width="5" height="37" fill="#52a49a"/><rect x="817" y="329" width="5" height="54" fill="#e05c52"/><rect x="825" y="346" width="5" height="66" fill="#e05c52"/><rect x="832" y="398" width="5" height="20" fill="#52a49a"/><rect x="837" y="404" width="5" height="41" fill="#52a49a"/><rect x="841" y="402" width="5" height="113" fill="#e05c52"/><rect x="844" y="490" width="5" height="33" fill="#e05c52"/><rect x="848" y="490" width="5" height="29" fill="#e05c52"/><rect x="850" y="501" width="5" height="27" fill="#e05c52"/><rect x="854" y="482" width="5" height="44" fill="#52a49a"/><rect x="857" y="467" width="5" height="19" fill="#52a49a"/><rect x="861" y="454" width="5" height="30" fill="#52a49a"/><rect x="866" y="461" width="5" height="17" fill="#e05c52"/><rect x="870" y="465" width="5" height="13" fill="#52a49a"/><rect x="872" y="466" width="5" height="49" fill="#e05c52"/><rect x="876" y="482" width="5" height="37" fill="#52a49a"/><rect x="880" y="480" width="5" height="31" fill="#e05c52"/><rect x="884" y="482" width="5" height="21" fill="#52a49a"/><rect x="889" y="467" width="5" height="38" fill="#52a49a"/><rect x="896" y="471" width="5" height="25" fill="#e05c52"/><rect x="900" y="482" width="5" height="50" fill="#e05c52"/><rect x="902" y="523" width="5" height="24" fill="#52a49a"/><rect x="906" y="530" width="5" height="24" fill="#e05c52"/><rect x="910" y="550" width="5" height="30" fill="#e05c52"/><rect x="915" y="503" width="5" height="80" fill="#52a49a"/><rect x="922" y="496" width="5" height="13" fill="#e05c52"/><rect x="926" y="515" width="5" height="32" fill="#e05c52"/><rect x="930" y="530" width="5" height="21" fill="#52a49a"/><rect x="937" y="530" width="5" height="16" fill="#e05c52"/><rect x="939" y="532" width="5" height="12" fill="#e05c52"/><rect x="941" y="532" width="5" height="19" fill="#52a49a"/><rect x="944" y="533" width="5" height="12" fill="#52a49a"/><rect x="948" y="528" width="5" height="14" fill="#e05c52"/><rect x="952" y="518" width="5" height="22" fill="#52a49a"/><rect x="955" y="507" width="5" height="17" fill="#52a49a"/><rect x="958" y="479" width="5" height="40" fill="#52a49a"/><rect x="963" y="480" width="5" height="46" fill="#e05c52"/><rect x="967" y="496" width="5" height="30" fill="#52a49a"/><rect x="972" y="496" width="5" height="11" fill="#52a49a"/><rect x="974" y="500" width="5" height="39" fill="#e05c52"/><rect x="979" y="510" width="5" height="24" fill="#52a49a"/><rect x="982" y="492" width="5" height="22" fill="#52a49a"/><rect x="988" y="484" width="5" height="26" fill="#52a49a"/><rect x="992" y="484" width="5" height="19" fill="#e05c52"/><rect x="997" y="488" width="5" height="12" fill="#52a49a"/><rect x="1009" y="425" width="5" height="20" fill="#52a49a"/><rect x="1013" y="414" width="5" height="16" fill="#52a49a"/><rect x="1017" y="404" width="5" height="15" fill="#e05c52"/><rect x="1019" y="406" width="5" height="13" fill="#52a49a"/><rect x="1023" y="411" width="5" height="29" fill="#e05c52"/><rect x="1026" y="424" width="5" height="24" fill="#e05c52"/><rect x="1029" y="438" width="5" height="27" fill="#e05c52"/><rect x="1034" y="438" width="5" height="25" fill="#52a49a"/><rect x="1045" y="434" width="5" height="22" fill="#52a49a"/><rect x="1050" y="412" width="5" height="28" fill="#52a49a"/><rect x="1053" y="401" width="5" height="35" fill="#52a49a"/><rect x="1057" y="396" width="5" height="22" fill="#52a49a"/><rect x="1061" y="400" width="5" height="16" fill="#e05c52"/><rect x="1068" y="404" width="5" height="14" fill="#e05c52"/><rect x="1073" y="390" width="5" height="29" fill="#52a49a"/><rect x="1079" y="390" width="5" height="16" fill="#e05c52"/><rect x="1083" y="390" width="5" height="19" fill="#e05c52"/><rect x="1095" y="392" width="5" height="15" fill="#e05c52"/><rect x="1104" y="394" width="5" height="19" fill="#52a49a"/><rect x="1109" y="380" width="5" height="16" fill="#52a49a"/><rect x="1113" y="378" width="5" height="26" fill="#e05c52"/><rect x="1116" y="394" width="5" height="14" fill="#52a49a"/><rect x="1121" y="398" width="5" height="30" fill="#e05c52"/><rect x="1125" y="408" width="5" height="21" fill="#e05c52"/><rect x="1129" y="416" width="5" height="25" fill="#52a49a"/><rect x="1132" y="402" width="5" height="29" fill="#52a49a"/><rect x="1136" y="394" width="5" height="24" fill="#52a49a"/><rect x="1140" y="388" width="5" height="15" fill="#52a49a"/><rect x="1143" y="380" width="5" height="16" fill="#52a49a"/><rect x="1147" y="372" width="5" height="18" fill="#52a49a"/><rect x="1154" y="372" width="5" height="12" fill="#52a49a"/><rect x="1159" y="360" width="5" height="21" fill="#52a49a"/><rect x="1161" y="366" width="5" height="15" fill="#e05c52"/><rect x="1165" y="366" width="5" height="21" fill="#52a49a"/><rect x="1169" y="361" width="5" height="13" fill="#52a49a"/><rect x="1180" y="357" width="5" height="14" fill="#e05c52"/><rect x="1185" y="356" width="5" height="17" fill="#52a49a"/><rect x="1189" y="342" width="5" height="21" fill="#52a49a"/><rect x="1191" y="342" width="5" height="24" fill="#e05c52"/><rect x="1194" y="349" width="5" height="19" fill="#e05c52"/><rect x="1199" y="362" width="5" height="27" fill="#e05c52"/><rect x="1202" y="378" width="5" height="11" fill="#52a49a"/><rect x="1206" y="382" width="5" height="25" fill="#e05c52"/><rect x="1210" y="402" width="5" height="29" fill="#e05c52"/><rect x="1215" y="405" width="5" height="25" fill="#52a49a"/><rect x="1225" y="404" width="5" height="14" fill="#e05c52"/><rect x="1229" y="413" width="5" height="18" fill="#e05c52"/><rect x="1233" y="412" width="5" height="19" fill="#e05c52"/><rect x="1236" y="417" width="5" height="13" fill="#52a49a"/><rect x="1241" y="394" width="5" height="13" fill="#52a49a"/><rect x="1244" y="396" width="5" height="11" fill="#e05c52"/><rect x="1258" y="374" width="5" height="31" fill="#52a49a"/><rect x="1263" y="370" width="5" height="20" fill="#e05c52"/><rect x="1266" y="376" width="5" height="16" fill="#e05c52"/><rect x="1270" y="378" width="5" height="11" fill="#52a49a"/><rect x="1274" y="382" width="5" height="19" fill="#e05c52"/><rect x="1278" y="387" width="5" height="12" fill="#52a49a"/><rect x="1285" y="387" width="5" height="23" fill="#e05c52"/><rect x="1289" y="406" width="5" height="14" fill="#52a49a"/><rect x="1292" y="404" width="5" height="18" fill="#e05c52"/><rect x="1297" y="398" width="5" height="22" fill="#52a49a"/><rect x="1300" y="401" width="5" height="14" fill="#e05c52"/><rect x="1305" y="394" width="5" height="16" fill="#52a49a"/><rect x="1319" y="400" width="5" height="13" fill="#e05c52"/><rect x="1327" y="406" width="5" height="13" fill="#e05c52"/><rect x="1331" y="414" width="5" height="17" fill="#e05c52"/><rect x="1336" y="424" width="5" height="14" fill="#e05c52"/><rect x="1340" y="428" width="5" height="15" fill="#52a49a"/><rect x="1345" y="419" width="5" height="12" fill="#52a49a"/><rect x="1351" y="408" width="5" height="12" fill="#52a49a"/><rect x="1361" y="374" width="5" height="43" fill="#52a49a"/><rect x="1366" y="362" width="5" height="19" fill="#52a49a"/><rect x="1370" y="360" width="5" height="13" fill="#e05c52"/><rect x="1375" y="360" width="5" height="14" fill="#e05c52"/><rect x="1379" y="367" width="5" height="14" fill="#e05c52"/><rect x="1382" y="368" width="5" height="29" fill="#e05c52"/><rect x="1386" y="382" width="5" height="24" fill="#52a49a"/><rect x="1389" y="371" width="5" height="26" fill="#52a49a"/><rect x="1393" y="346" width="5" height="39" fill="#52a49a"/><rect x="1396" y="352" width="5" height="12" fill="#e05c52"/><rect x="1401" y="354" width="5" height="33" fill="#e05c52"/><rect x="1405" y="366" width="5" height="23" fill="#e05c52"/><rect x="1423" y="378" width="5" height="20" fill="#52a49a"/><rect x="1427" y="377" width="5" height="23" fill="#e05c52"/><rect x="1432" y="381" width="5" height="18" fill="#e05c52"/><rect x="1436" y="381" width="5" height="20" fill="#52a49a"/><rect x="1442" y="378" width="5" height="18" fill="#e05c52"/><rect x="1446" y="374" width="5" height="20" fill="#e05c52"/><rect x="1450" y="362" width="5" height="27" fill="#52a49a"/><rect x="1457" y="356" width="5" height="22" fill="#e05c52"/><rect x="1461" y="375" width="5" height="23" fill="#e05c52"/><rect x="1464" y="388" width="5" height="20" fill="#e05c52"/><rect x="1469" y="401" width="5" height="11" fill="#e05c52"/><rect x="1478" y="417" width="5" height="20" fill="#e05c52"/><rect x="1483" y="423" width="5" height="10" fill="#52a49a"/><rect x="1497" y="412" width="5" height="15" fill="#52a49a"/><rect x="1501" y="412" width="5" height="14" fill="#e05c52"/><rect x="1506" y="396" width="5" height="31" fill="#52a49a"/><rect x="1513" y="393" width="5" height="12" fill="#e05c52"/><rect x="1517" y="404" width="5" height="15" fill="#e05c52"/><rect x="1521" y="408" width="5" height="11" fill="#52a49a"/><rect x="1526" y="388" width="5" height="24" fill="#52a49a"/><rect x="1531" y="386" width="5" height="14" fill="#e05c52"/><rect x="1536" y="376" width="5" height="20" fill="#52a49a"/><rect x="1541" y="366" width="5" height="22" fill="#52a49a"/><rect x="1546" y="366" width="5" height="18" fill="#e05c52"/><rect x="1558" y="346" width="5" height="28" fill="#52a49a"/><rect x="1563" y="344" width="5" height="32" fill="#e05c52"/><rect x="1568" y="366" width="5" height="10" fill="#e05c52"/><rect x="1577" y="360" width="5" height="12" fill="#52a49a"/><rect x="1589" y="363" width="5" height="13" fill="#e05c52"/><rect x="1593" y="343" width="5" height="29" fill="#52a49a"/><rect x="1598" y="340" width="5" height="21" fill="#e05c52"/><rect x="1603" y="358" width="5" height="16" fill="#e05c52"/><rect x="1606" y="360" width="5" height="19" fill="#e05c52"/><rect x="1610" y="366" width="5" height="110" fill="#e05c52"/><rect x="1615" y="428" width="5" height="48" fill="#e05c52"/><rect x="1629" y="461" width="5" height="14" fill="#e05c52"/><rect x="1632" y="461" width="5" height="21" fill="#e05c52"/><rect x="1636" y="471" width="5" height="23" fill="#e05c52"/><rect x="1641" y="479" width="5" height="16" fill="#52a49a"/><rect x="1645" y="472" width="5" height="12" fill="#52a49a"/><rect x="1658" y="461" width="5" height="13" fill="#52a49a"/><rect x="1662" y="448" width="5" height="16" fill="#52a49a"/><rect x="1681" y="448" width="5" height="10" fill="#e05c52"/><rect x="1685" y="453" width="5" height="21" fill="#e05c52"/><rect x="1689" y="458" width="5" height="18" fill="#52a49a"/><rect x="1697" y="458" width="5" height="14" fill="#e05c52"/><rect x="1703" y="446" width="5" height="18" fill="#52a49a"/><rect x="1706" y="442" width="5" height="16" fill="#52a49a"/><rect x="1710" y="440" width="5" height="14" fill="#e05c52"/><rect x="1714" y="440" width="5" height="17" fill="#52a49a"/><rect x="1723" y="428" width="5" height="23" fill="#e05c52"/><rect x="1727" y="436" width="5" height="18" fill="#52a49a"/><rect x="1735" y="444" width="5" height="42" fill="#e05c52"/><rect x="1749" y="478" width="5" height="17" fill="#e05c52"/><rect x="1752" y="488" width="5" height="16" fill="#e05c52"/><rect x="1757" y="476" width="5" height="19" fill="#52a49a"/><rect x="1761" y="474" width="5" height="13" fill="#e05c52"/><rect x="1766" y="473" width="5" height="14" fill="#52a49a"/><rect x="1774" y="474" width="5" height="12" fill="#e05c52"/><rect x="1779" y="483" width="5" height="20" fill="#e05c52"/><rect x="1787" y="490" width="5" height="13" fill="#e05c52"/><rect x="453" y="660" width="2" height="14" fill="#52a49a"/><rect x="526" y="654" width="2" height="18" fill="#e05c52"/><rect x="646" y="624" width="2" height="12" fill="#e05c52"/><rect x="778" y="132" width="2" height="84" fill="#e05c52"/><rect x="782" y="166" width="2" height="57" fill="#52a49a"/><rect x="792" y="270" width="2" height="81" fill="#52a49a"/><rect x="796" y="323" width="2" height="24" fill="#e05c52"/><rect x="804" y="299" width="2" height="94" fill="#e05c52"/><rect x="821" y="301" width="2" height="58" fill="#52a49a"/><rect x="830" y="412" width="2" height="18" fill="#e05c52"/><rect x="842" y="515" width="2" height="48" fill="#e05c52"/><rect x="848" y="473" width="2" height="46" fill="#e05c52"/><rect x="860" y="449" width="2" height="18" fill="#52a49a"/><rect x="868" y="478" width="2" height="15" fill="#e05c52"/><rect x="885" y="464" width="2" height="18" fill="#52a49a"/><rect x="894" y="454" width="2" height="19" fill="#52a49a"/><rect x="902" y="532" width="2" height="11" fill="#e05c52"/><rect x="908" y="514" width="2" height="16" fill="#e05c52"/><rect x="912" y="580" width="2" height="35" fill="#e05c52"/><rect x="920" y="492" width="2" height="15" fill="#52a49a"/><rect x="928" y="547" width="2" height="10" fill="#e05c52"/><rect x="934" y="521" width="2" height="9" fill="#52a49a"/><rect x="972" y="488" width="2" height="9" fill="#52a49a"/><rect x="980" y="502" width="2" height="52" fill="#52a49a"/><rect x="988" y="482" width="2" height="9" fill="#e05c52"/><rect x="1006" y="418" width="2" height="12" fill="#52a49a"/><rect x="1014" y="398" width="2" height="16" fill="#52a49a"/><rect x="1040" y="434" width="2" height="12" fill="#e05c52"/><rect x="1062" y="384" width="2" height="32" fill="#e05c52"/><rect x="1065" y="401" width="2" height="29" fill="#52a49a"/><rect x="1076" y="386" width="2" height="18" fill="#e05c52"/><rect x="1088" y="397" width="2" height="16" fill="#52a49a"/><rect x="1092" y="392" width="2" height="5" fill="#52a49a"/><rect x="1152" y="360" width="2" height="18" fill="#e05c52"/><rect x="1222" y="390" width="2" height="17" fill="#e05c52"/><rect x="1418" y="374" width="2" height="15" fill="#52a49a"/><rect x="1432" y="354" width="2" height="51" fill="#e05c52"/><rect x="1440" y="370" width="2" height="16" fill="#52a49a"/><rect x="1454" y="336" width="2" height="26" fill="#52a49a"/><rect x="1470" y="401" width="2" height="35" fill="#e05c52"/><rect x="1564" y="376" width="2" height="12" fill="#e05c52"/><rect x="1594" y="334" width="2" height="9" fill="#52a49a"/><rect x="1612" y="476" width="2" height="51" fill="#e05c52"/><rect x="1616" y="476" width="2" height="5" fill="#e05c52"/><rect x="1620" y="452" width="2" height="36" fill="#52a49a"/><rect x="1624" y="460" width="2" height="28" fill="#52a49a"/><rect x="1626" y="456" width="2" height="62" fill="#52a49a"/><rect x="1630" y="444" width="2" height="17" fill="#e05c52"/><rect x="1638" y="494" width="2" height="10" fill="#e05c52"/><rect x="1668" y="442" width="2" height="7" fill="#e05c52"/><rect x="1680" y="440" width="2" height="9" fill="#52a49a"/><rect x="1694" y="450" width="2" height="11" fill="#e05c52"/><rect x="1694" y="450" width="2" height="11" fill="#e05c52"/><rect x="1710" y="436" width="2" height="6" fill="#52a49a"/><rect x="1712" y="454" width="2" height="5" fill="#e05c52"/><rect x="1736" y="486" width="2" height="22" fill="#e05c52"/><rect x="1742" y="474" width="2" height="16" fill="#52a49a"/><rect x="1772" y="470" width="2" height="8" fill="#52a49a"/><rect x="1784" y="480" width="2" height="17" fill="#52a49a"/></g>
<!-- dotted last price line -->
<line x1="22" y1="503" x2="1814" y2="503" stroke="#e05c52" stroke-width="2" stroke-dasharray="2 2" shape-rendering="crispEdges"/>
<!-- last price label -->
<rect x="1818" y="480" width="122" height="52" fill="#df5c55"/>
<text transform="translate(1878.5,518.5) scale(1,1.07)"   fill="#ffffff" stroke="#ffffff" stroke-width="0.3" text-anchor="middle" style="font-size:30.5px">86.762</text>
<!-- legend -->
<rect x="18" y="41" width="862" height="57" fill="#ffffff" fill-opacity="0.75"/>
<text transform="translate(0,83.8) scale(1,1.07)"  fill="#1b1e24" stroke="#1b1e24" stroke-width="0.35"><tspan x="26.3">Crude</tspan><tspan x="116.8">Oil</tspan><tspan x="162.4">WTI</tspan><tspan x="222.3">(USD/Bbl)</tspan><tspan x="362.6">O</tspan><tspan x="393.8" fill="#df5c55" stroke="#df5c55">87.050</tspan><tspan x="493.3">H</tspan><tspan x="524" fill="#df5c55" stroke="#df5c55">87.128</tspan><tspan x="624">L</tspan><tspan x="649.3" fill="#df5c55" stroke="#df5c55">86.753</tspan><tspan x="749.3">C</tspan><tspan x="779.5" fill="#df5c55" stroke="#df5c55">86.810</tspan></text>
<!-- settings gear -->
<g transform="translate(1880,834)" shape-rendering="geometricPrecision">
<path d="M-4.50,-10.47 L-3.30,-15.14 L3.30,-15.14 L4.50,-10.47 L6.82,-9.13 L11.47,-10.43 L14.77,-4.71 L11.32,-1.34 L11.32,1.34 L14.77,4.71 L11.47,10.43 L6.82,9.13 L4.50,10.47 L3.30,15.14 L-3.30,15.14 L-4.50,10.47 L-6.82,9.13 L-11.47,10.43 L-14.77,4.71 L-11.32,1.34 L-11.32,-1.34 L-14.77,-4.71 L-11.47,-10.43 L-6.82,-9.13Z" fill="none" stroke="#787878" stroke-width="3.2" stroke-linejoin="round"/>
<circle cx="0" cy="0" r="5.2" fill="none" stroke="#787878" stroke-width="3.2"/>
</g>
</svg>
</body></html>
